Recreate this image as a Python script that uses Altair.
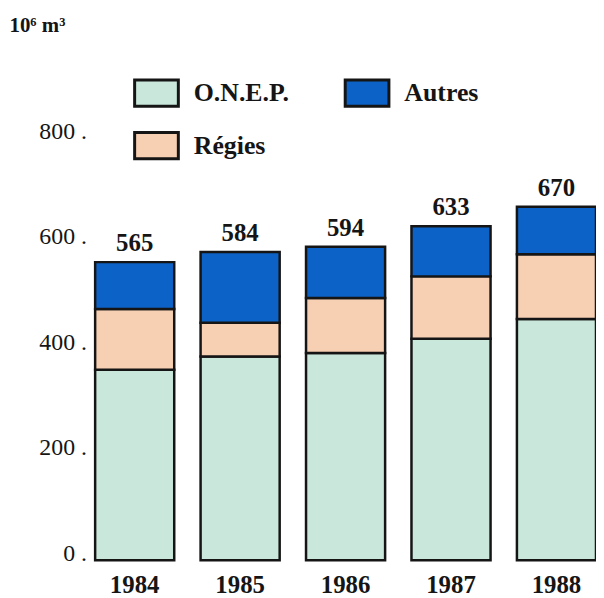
import altair as alt
import pandas as pd

years = ["1984", "1985", "1986", "1987", "1988"]
onep = [361, 386, 393, 420, 457]
regies = [115, 64, 104, 118, 123]
autres = [89, 134, 97, 95, 90]
totals = [565, 584, 594, 633, 670]
series = ["O.N.E.P.", "Régies", "Autres"]
colors = ["#c9e7da", "#f7cfb2", "#0c62c6"]
y_ticks = [0, 200, 400, 600, 800]

rows = []
for i, yr in enumerate(years):
    for k, (name, vals) in enumerate(zip(series, [onep, regies, autres])):
        rows.append({"year": yr, "source": name, "value": vals[i], "ord": k})
df = pd.DataFrame(rows)
tot = pd.DataFrame({"year": years, "total": totals})

FONT = "Liberation Serif"
INK = "#151515"

x_enc = alt.X(
    "year:N",
    sort=years,
    scale=alt.Scale(paddingInner=0.25, paddingOuter=0.06, align=1),
    axis=alt.Axis(
        title=None, labelAngle=0, labelFont=FONT, labelFontSize=25,
        labelFontWeight="bold", labelColor=INK, ticks=False, domain=False,
        labelPadding=12,
    ),
)

bars = alt.Chart(df).mark_bar(stroke=INK, strokeWidth=2.5).encode(
    x=x_enc,
    y=alt.Y(
        "value:Q",
        stack="zero",
        scale=alt.Scale(domain=[0, 800], nice=False),
        axis=alt.Axis(
            values=y_ticks, labelExpr="datum.label + ' .'", labelFont=FONT,
            labelFontSize=24, labelColor=INK, labelAlign="right",
            labelBaseline="alphabetic", labelPadding=-4, ticks=False,
            domain=False, grid=False,
            title="10⁶ m³", titleAngle=0, titleAlign="left",
            titleBaseline="alphabetic", titleX=-74, titleY=-107,
            titleFont=FONT, titleFontSize=21, titleFontWeight="bold",
            titleColor=INK,
        ),
    ),
    color=alt.Color(
        "source:N",
        scale=alt.Scale(domain=series, range=colors),
        legend=alt.Legend(
            title=None, orient="none", legendX=51, legendY=-69, columns=2,
            symbolType="M-1,-0.6L1,-0.6L1,0.6L-1,0.6Z", symbolSize=1936,
            symbolStrokeColor=INK, symbolStrokeWidth=3, symbolOpacity=1,
            labelFont=FONT, labelFontSize=26, labelFontWeight="bold",
            labelColor=INK, labelOffset=14, columnPadding=50, rowPadding=10,
            padding=0,
        ),
    ),
    order=alt.Order("ord:Q"),
)

labels = alt.Chart(tot).mark_text(
    dy=-11, baseline="alphabetic", font=FONT, fontSize=25,
    fontWeight="bold", color=INK,
).encode(
    x=alt.X("year:N", sort=years),
    y=alt.Y("total:Q"),
    text=alt.Text("total:Q"),
)

chart = (
    alt.layer(bars, labels)
    .properties(
        width=517, height=425,
        autosize=alt.AutoSizeParams(type="none"),
        padding={"left": 75, "top": 129, "right": 0, "bottom": 38},
    )
    .configure_view(stroke=None)
)

chart.save("out.html", embed_options={"renderer": "svg", "actions": False})
